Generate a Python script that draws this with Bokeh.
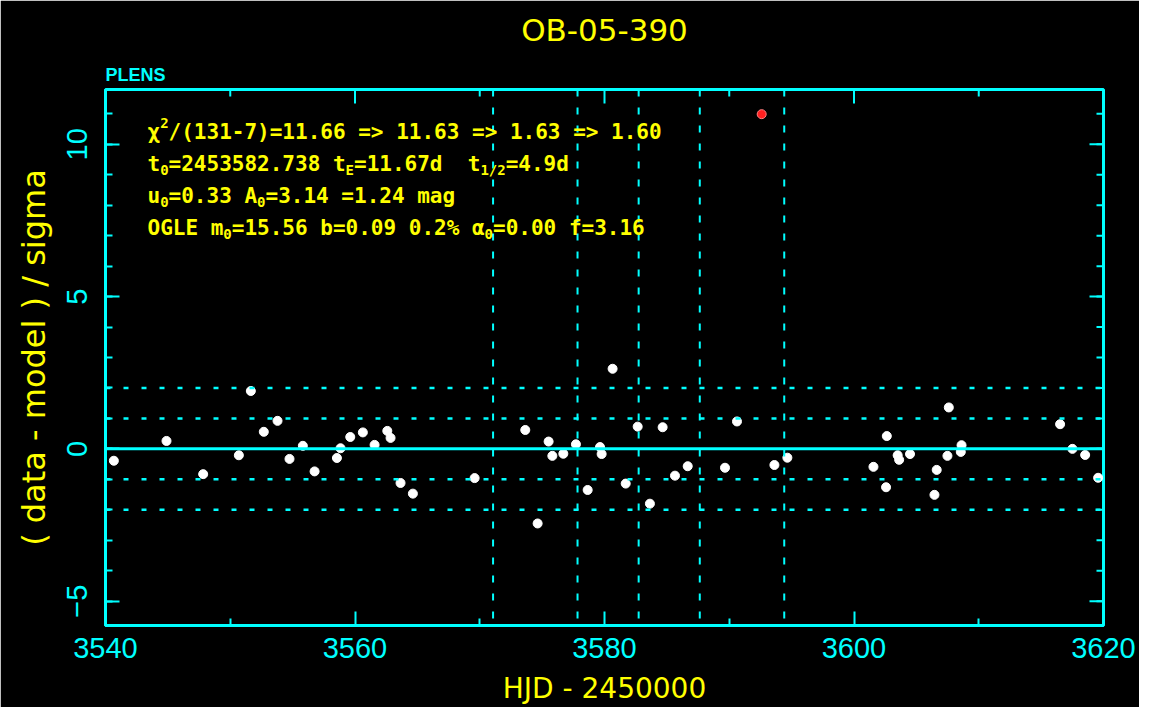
import math
from bokeh.plotting import figure
from bokeh.models import Range1d, FixedTicker, Span, Label, Title
from bokeh.embed import file_html
from bokeh.resources import INLINE

# ---------------- data ----------------
title_text = "OB-05-390"
corner_text = "PLENS"
x_label = "HJD - 2450000"
y_label = "( data - model ) / sigma"

hjd = [3540.67, 3544.89, 3547.83, 3550.69, 3551.65, 3552.69, 3553.79, 3554.75,
       3555.82, 3556.76, 3558.55, 3558.84, 3559.62, 3560.63, 3561.57, 3562.59,
       3562.85, 3563.65, 3564.64, 3569.59, 3573.65, 3574.64, 3575.52, 3575.82,
       3576.70, 3577.71, 3578.65, 3579.64, 3579.77, 3580.65, 3581.70, 3582.66,
       3583.64, 3584.66, 3585.65, 3586.67, 3589.66, 3590.62, 3593.62, 3594.66,
       3601.56, 3602.63, 3602.57, 3603.50, 3603.62, 3604.49, 3606.45, 3606.63,
       3607.49, 3607.60, 3608.62, 3608.56, 3616.52, 3617.51, 3618.53, 3619.57]
resid = [-0.39, 0.26, -0.83, -0.21, 1.90, 0.56, 0.92, -0.33,
         0.10, -0.74, -0.30, 0.02, 0.39, 0.54, 0.13, 0.59,
         0.36, -1.12, -1.47, -0.96, 0.62, -2.45, 0.24, -0.23,
         -0.16, 0.15, -1.35, 0.06, -0.17, 2.63, -1.14, 0.73,
         -1.80, 0.71, -0.88, -0.57, -0.62, 0.90, -0.53, -0.29,
         -0.59, 0.42, -1.26, -0.21, -0.36, -0.17, -1.51, -0.69,
         -0.23, 1.36, 0.12, -0.10, 0.81, 0.00, -0.20, -0.95]
outlier_hjd = [3592.60]
outlier_resid = [10.99]

t0 = 3582.738
tE = 11.67
t_half = 4.9
sigma_levels = [-2, -1, 1, 2]

x_min, x_max = 3540, 3620
y_min, y_max = -5.8, 11.8
x_ticks = [3540, 3560, 3580, 3600, 3620]
x_minor = [3550, 3570, 3590, 3610]
y_ticks = [-5, 0, 5, 10]
y_minor = list(range(-5, 12))

NB = "\u00a0"
info_lines = [
    [("χ", "n"), ("2", "sup"), ("/(131-7)=11.66 => 11.63 => 1.63 => 1.60", "n")],
    [("t", "n"), ("0", "sub"), ("=2453582.738 t", "n"), ("E", "sub"),
     ("=11.67d" + NB + NB + "t", "n"), ("1/2", "sub"), ("=4.9d", "n")],
    [("u", "n"), ("0", "sub"), ("=0.33 A", "n"), ("0", "sub"), ("=3.14 =1.24 mag", "n")],
    [("OGLE m", "n"), ("0", "sub"), ("=15.56 b=0.09 0.2% α", "n"), ("0", "sub"),
     ("=0.00 f=3.16", "n")],
]

# ---------------- styling ----------------
CYAN = "#00FFFF"
YELLOW = "#FFFF00"
W, H = 1139, 707

p = figure(width=W, height=H, output_backend="svg", toolbar_location=None,
           x_range=Range1d(x_min, x_max), y_range=Range1d(y_min, y_max),
           min_border_left=105, min_border_right=36, min_border_top=89,
           min_border_bottom=80,
           background_fill_color="black", border_fill_color="black",
           outline_line_color=CYAN, outline_line_width=3)
p.grid.visible = False

p.title.text = title_text
p.title.align = "center"
p.title.text_color = YELLOW
p.title.text_font = "DejaVu Sans"
p.title.text_font_size = "31px"
p.title.text_font_style = "normal"
p.title.standoff = 19


def style_axis(ax, ticks, minor):
    ax.ticker = FixedTicker(ticks=ticks, minor_ticks=minor)
    ax.axis_line_color = CYAN
    ax.axis_line_width = 3
    ax.major_tick_line_color = CYAN
    ax.major_tick_line_width = 2
    ax.minor_tick_line_color = CYAN
    ax.minor_tick_line_width = 2
    ax.major_tick_in = 14
    ax.major_tick_out = 0
    ax.minor_tick_in = 7
    ax.minor_tick_out = 0
    ax.major_label_text_color = CYAN
    ax.major_label_text_font = "Liberation Sans"
    ax.major_label_text_font_size = "29px"
    ax.axis_label_text_color = YELLOW
    ax.axis_label_text_font_style = "normal"


xa = p.xaxis[0]
style_axis(xa, x_ticks, x_minor)
xa.axis_label = x_label
xa.axis_label_text_font = "DejaVu Sans"
xa.axis_label_text_font_size = "28px"
xa.major_label_standoff = 12
xa.axis_label_standoff = 11

ya = p.yaxis[0]
style_axis(ya, y_ticks, y_minor)
ya.axis_label = y_label
ya.axis_label_text_font = "DejaVu Sans"
ya.axis_label_text_font_size = "32px"
ya.major_label_orientation = "vertical"
ya.major_label_standoff = 18
ya.axis_label_standoff = 12

# mirrored inward ticks on top and right edges
p.ray(x=x_ticks, y=[y_max] * len(x_ticks), length=14, angle=-math.pi / 2,
      length_units="screen", line_color=CYAN, line_width=2)
p.ray(x=x_minor, y=[y_max] * len(x_minor), length=7, angle=-math.pi / 2,
      length_units="screen", line_color=CYAN, line_width=2)
p.ray(x=[x_max] * len(y_ticks), y=y_ticks, length=14, angle=math.pi,
      length_units="screen", line_color=CYAN, line_width=2)
p.ray(x=[x_max] * len(y_minor), y=y_minor, length=7, angle=math.pi,
      length_units="screen", line_color=CYAN, line_width=2)

p.add_layout(Title(text=corner_text, align="left", text_color=CYAN,
                   text_font="Liberation Sans", text_font_size="18px",
                   text_font_style="bold"), "above")

# reference lines
p.add_layout(Span(location=0, dimension="width", line_color=CYAN, line_width=3))
for lv in sigma_levels:
    p.add_layout(Span(location=lv, dimension="width", line_color=CYAN,
                      line_width=2.5, line_dash="5 13"))
for tv in [t0 - tE, t0 - t_half, t0, t0 + t_half, t0 + tE]:
    p.add_layout(Span(location=tv, dimension="height", line_color=CYAN,
                      line_width=2, line_dash="7 11"))

# data points
p.scatter(hjd, resid, size=9, marker="circle", fill_color="white",
          line_color="white")
p.scatter(outlier_hjd, outlier_resid, size=9, marker="circle",
          fill_color="#FF2020", line_color="#FF8080")

# info text block
FONT_MAIN = 21
FONT_SMALL = 14
CW = 0.602
start_x = 42
baselines = [494, 462, 430, 398]
for segs, by in zip(info_lines, baselines):
    x = start_x
    for txt, kind in segs:
        if kind == "n":
            size, dy = FONT_MAIN, 0
        elif kind == "sub":
            size, dy = FONT_SMALL, -6
        else:
            size, dy = FONT_SMALL, 9
        p.add_layout(Label(x=x, y=by + dy, x_units="screen", y_units="screen",
                           text=txt, text_font="DejaVu Sans Mono",
                           text_font_size=f"{size}px", text_font_style="bold",
                           text_color=YELLOW, text_baseline="alphabetic",
                           text_align="left"))
        x += len(txt) * CW * size

open("out.html", "w").write(file_html(p, INLINE))
